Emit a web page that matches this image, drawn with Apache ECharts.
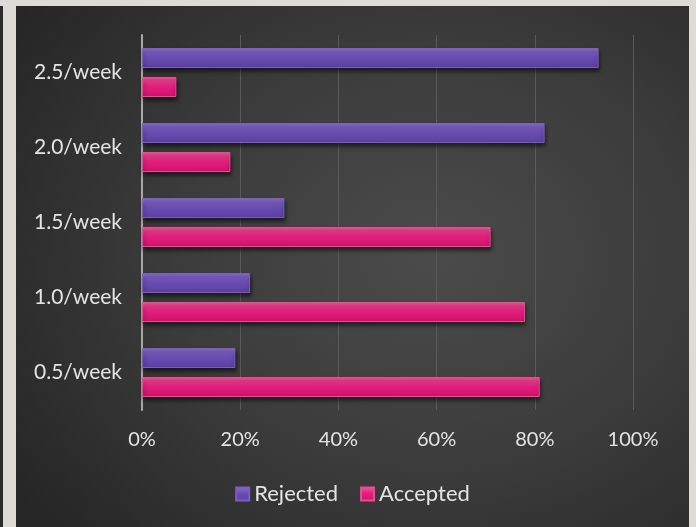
<!DOCTYPE html>
<html>
<head>
<meta charset="utf-8">
<script src="https://cdn.jsdelivr.net/npm/echarts@6/dist/echarts.min.js"></script>
<style>
  html, body { margin: 0; padding: 0; }
  body { width: 696px; height: 527px; background: #dedad6; position: relative; overflow: hidden; }
  #edge { position: absolute; left: 0; top: 6px; width: 3px; height: 521px; background: #2a2a2a; }
  #main {
    position: absolute; left: 16px; top: 6px; width: 673px; height: 521px;
    background: radial-gradient(ellipse 75% 80% at 62% 48%, #4b4b4b 0%, #3c3c3c 50%, #262626 100%);
  }
</style>
</head>
<body>
<div id="edge"></div>
<div id="main"></div>
<script>
// rates, bottom to top as in the picture
const categories = ["0.5/week", "1.0/week", "1.5/week", "2.0/week", "2.5/week"];
const rejected = [19, 22, 29, 82, 93];
const accepted = [81, 78, 71, 18, 7];
const xTicks = [0, 20, 40, 60, 80, 100];

const font = "Lato, 'Open Sans', sans-serif";

function barFill(top, mid, bottom) {
  return new echarts.graphic.LinearGradient(0, 0, 0, 1, [
    { offset: 0, color: top },
    { offset: 0.45, color: mid },
    { offset: 1, color: bottom },
  ]);
}

const chart = echarts.init(document.getElementById("main"));

chart.setOption({
  animation: false,
  grid: { left: 126, right: 56, top: 29, bottom: 117 },
  legend: {
    data: ["Rejected", "Accepted"],
    top: 472,
    left: "center",
    itemWidth: 13,
    itemHeight: 13,
    itemGap: 22,
    icon: "rect",
    textStyle: { color: "#e4e4e4", fontSize: 22, fontFamily: font },
  },
  xAxis: {
    type: "value",
    min: 0,
    max: 100,
    interval: 20,
    axisLine: { show: false },
    axisTick: { show: false },
    splitLine: { lineStyle: { color: "#5a5a5a", width: 1 } },
    axisLabel: {
      color: "#e4e4e4",
      fontSize: 20,
      fontFamily: font,
      margin: 20,
      formatter: (v) => (xTicks.includes(v) ? v + "%" : ""),
    },
  },
  yAxis: {
    type: "category",
    data: categories,
    axisLine: { lineStyle: { color: "#a8a8a8", width: 2 } },
    axisTick: { show: false },
    axisLabel: { color: "#e4e4e4", fontSize: 21, fontFamily: font, margin: 20 },
  },
  series: [
    {
      name: "Rejected",
      type: "bar",
      data: rejected,
      barWidth: 20,
      barGap: "45%",
      itemStyle: {
        color: barFill("#8c70cc", "#6a4db3", "#5a3f9f"),
        borderColor: "#7a5ec0",
        borderWidth: 1,
        shadowColor: "rgba(0,0,0,0.55)",
        shadowBlur: 4,
        shadowOffsetY: 3,
        shadowOffsetX: 1,
      },
    },
    {
      name: "Accepted",
      type: "bar",
      data: accepted,
      barWidth: 20,
      itemStyle: {
        color: barFill("#f2589d", "#e41f7d", "#cf126c"),
        borderColor: "#ee4a92",
        borderWidth: 1,
        shadowColor: "rgba(0,0,0,0.55)",
        shadowBlur: 4,
        shadowOffsetY: 3,
        shadowOffsetX: 1,
      },
    },
  ],
});
</script>
</body>
</html>
